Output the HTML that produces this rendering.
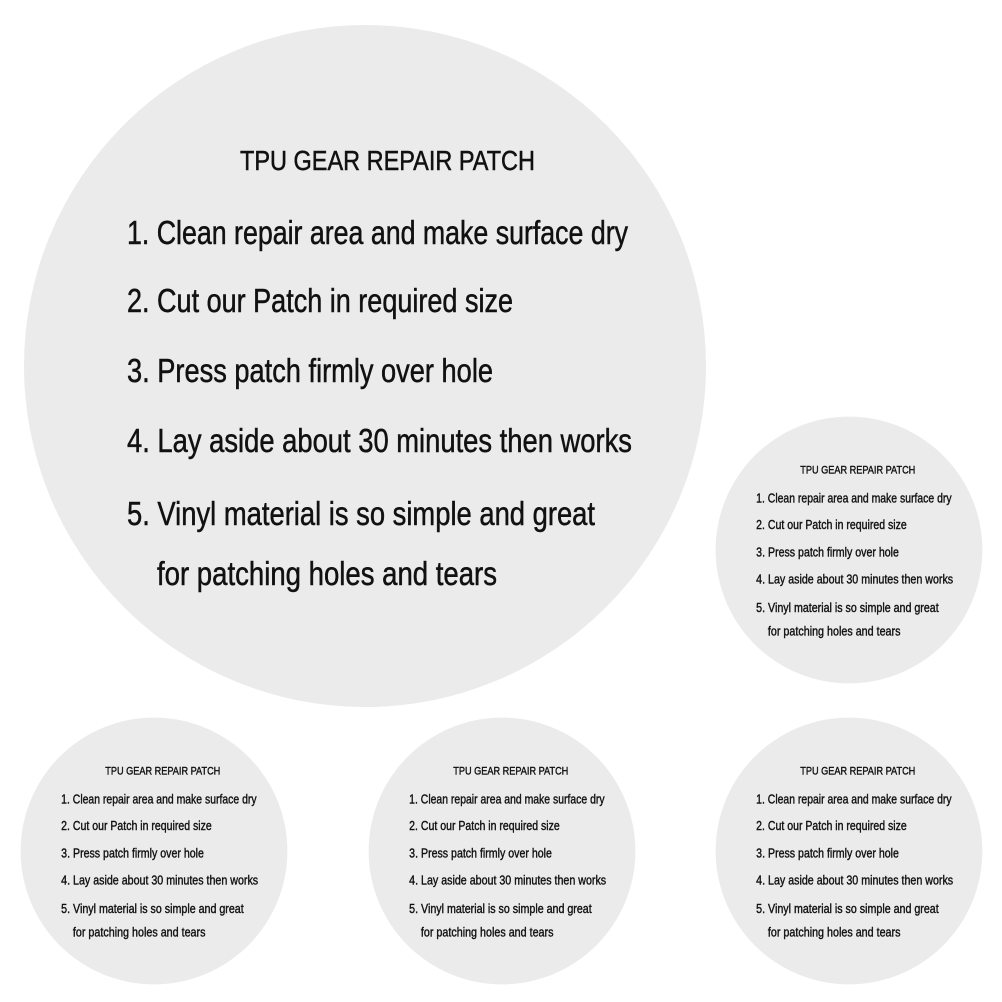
<!DOCTYPE html>
<html><head><meta charset="utf-8"><style>html,body{margin:0;padding:0;background:#fff}svg{display:block}</style></head>
<body>
<svg width="1002" height="1002" viewBox="0 0 1002 1002" xmlns="http://www.w3.org/2000/svg" font-family="Liberation Sans, sans-serif" fill="#111" stroke="#111" stroke-width="0.5">
<rect width="1002" height="1002" fill="#fff" stroke="none"/>
<g transform="translate(365,366)">
<circle r="341" fill="#ebebeb" stroke="none"/>
<text x="-125" y="-196" font-size="28" textLength="295" lengthAdjust="spacingAndGlyphs">TPU GEAR REPAIR PATCH</text>
<text x="-238" y="-122" font-size="33" textLength="501" lengthAdjust="spacingAndGlyphs">1. Clean repair area and make surface dry</text>
<text x="-238" y="-54" font-size="33" textLength="386" lengthAdjust="spacingAndGlyphs">2. Cut our Patch in required size</text>
<text x="-238" y="16" font-size="33" textLength="366" lengthAdjust="spacingAndGlyphs">3. Press patch firmly over hole</text>
<text x="-238" y="86" font-size="33" textLength="505" lengthAdjust="spacingAndGlyphs">4. Lay aside about 30 minutes then works</text>
<text x="-238" y="159" font-size="33" textLength="468" lengthAdjust="spacingAndGlyphs">5. Vinyl material is so simple and great</text>
<text x="-208" y="219" font-size="33" textLength="340" lengthAdjust="spacingAndGlyphs">for patching holes and tears</text>
</g>
<g transform="translate(849,550) scale(0.39)" stroke-width="1">
<circle r="342" fill="#ebebeb" stroke="none"/>
<text x="-125" y="-196" font-size="28" textLength="295" lengthAdjust="spacingAndGlyphs">TPU GEAR REPAIR PATCH</text>
<text x="-238" y="-122" font-size="33" textLength="501" lengthAdjust="spacingAndGlyphs">1. Clean repair area and make surface dry</text>
<text x="-238" y="-54" font-size="33" textLength="386" lengthAdjust="spacingAndGlyphs">2. Cut our Patch in required size</text>
<text x="-238" y="16" font-size="33" textLength="366" lengthAdjust="spacingAndGlyphs">3. Press patch firmly over hole</text>
<text x="-238" y="86" font-size="33" textLength="505" lengthAdjust="spacingAndGlyphs">4. Lay aside about 30 minutes then works</text>
<text x="-238" y="159" font-size="33" textLength="468" lengthAdjust="spacingAndGlyphs">5. Vinyl material is so simple and great</text>
<text x="-208" y="219" font-size="33" textLength="340" lengthAdjust="spacingAndGlyphs">for patching holes and tears</text>
</g>
<g transform="translate(154,851) scale(0.39)" stroke-width="1">
<circle r="342" fill="#ebebeb" stroke="none"/>
<text x="-125" y="-196" font-size="28" textLength="295" lengthAdjust="spacingAndGlyphs">TPU GEAR REPAIR PATCH</text>
<text x="-238" y="-122" font-size="33" textLength="501" lengthAdjust="spacingAndGlyphs">1. Clean repair area and make surface dry</text>
<text x="-238" y="-54" font-size="33" textLength="386" lengthAdjust="spacingAndGlyphs">2. Cut our Patch in required size</text>
<text x="-238" y="16" font-size="33" textLength="366" lengthAdjust="spacingAndGlyphs">3. Press patch firmly over hole</text>
<text x="-238" y="86" font-size="33" textLength="505" lengthAdjust="spacingAndGlyphs">4. Lay aside about 30 minutes then works</text>
<text x="-238" y="159" font-size="33" textLength="468" lengthAdjust="spacingAndGlyphs">5. Vinyl material is so simple and great</text>
<text x="-208" y="219" font-size="33" textLength="340" lengthAdjust="spacingAndGlyphs">for patching holes and tears</text>
</g>
<g transform="translate(502,851) scale(0.39)" stroke-width="1">
<circle r="342" fill="#ebebeb" stroke="none"/>
<text x="-125" y="-196" font-size="28" textLength="295" lengthAdjust="spacingAndGlyphs">TPU GEAR REPAIR PATCH</text>
<text x="-238" y="-122" font-size="33" textLength="501" lengthAdjust="spacingAndGlyphs">1. Clean repair area and make surface dry</text>
<text x="-238" y="-54" font-size="33" textLength="386" lengthAdjust="spacingAndGlyphs">2. Cut our Patch in required size</text>
<text x="-238" y="16" font-size="33" textLength="366" lengthAdjust="spacingAndGlyphs">3. Press patch firmly over hole</text>
<text x="-238" y="86" font-size="33" textLength="505" lengthAdjust="spacingAndGlyphs">4. Lay aside about 30 minutes then works</text>
<text x="-238" y="159" font-size="33" textLength="468" lengthAdjust="spacingAndGlyphs">5. Vinyl material is so simple and great</text>
<text x="-208" y="219" font-size="33" textLength="340" lengthAdjust="spacingAndGlyphs">for patching holes and tears</text>
</g>
<g transform="translate(849,851) scale(0.39)" stroke-width="1">
<circle r="342" fill="#ebebeb" stroke="none"/>
<text x="-125" y="-196" font-size="28" textLength="295" lengthAdjust="spacingAndGlyphs">TPU GEAR REPAIR PATCH</text>
<text x="-238" y="-122" font-size="33" textLength="501" lengthAdjust="spacingAndGlyphs">1. Clean repair area and make surface dry</text>
<text x="-238" y="-54" font-size="33" textLength="386" lengthAdjust="spacingAndGlyphs">2. Cut our Patch in required size</text>
<text x="-238" y="16" font-size="33" textLength="366" lengthAdjust="spacingAndGlyphs">3. Press patch firmly over hole</text>
<text x="-238" y="86" font-size="33" textLength="505" lengthAdjust="spacingAndGlyphs">4. Lay aside about 30 minutes then works</text>
<text x="-238" y="159" font-size="33" textLength="468" lengthAdjust="spacingAndGlyphs">5. Vinyl material is so simple and great</text>
<text x="-208" y="219" font-size="33" textLength="340" lengthAdjust="spacingAndGlyphs">for patching holes and tears</text>
</g>
</svg>
</body></html>
